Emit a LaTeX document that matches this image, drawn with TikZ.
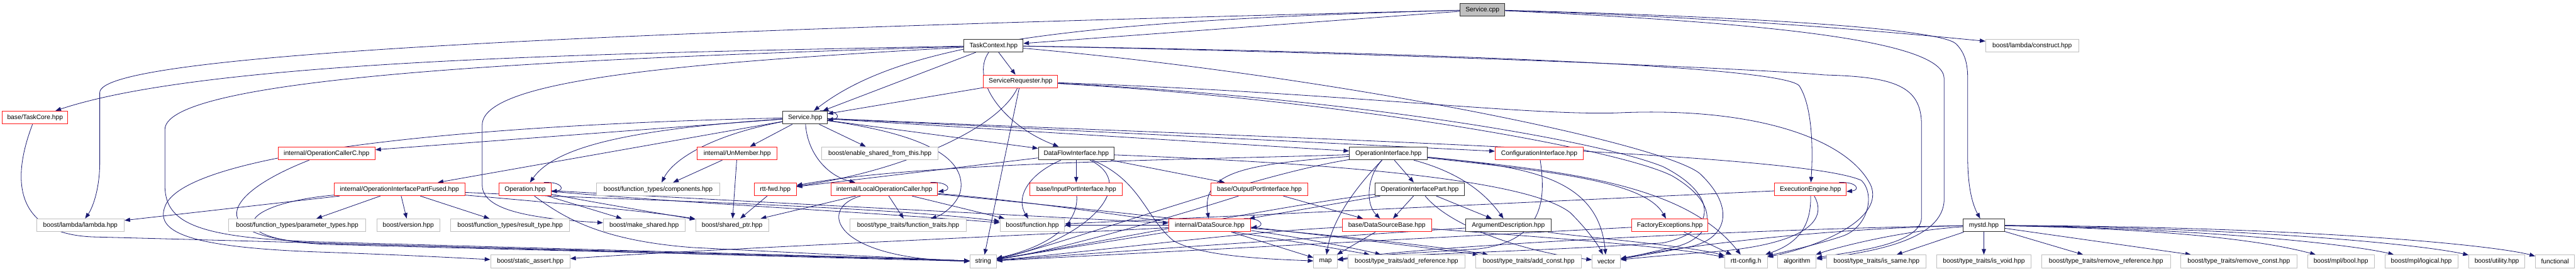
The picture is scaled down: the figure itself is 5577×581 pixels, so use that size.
\documentclass[tikz,border=0pt]{standalone}
\usepackage{fontspec}
\setmainfont{Liberation Sans}
\usetikzlibrary{arrows.meta}
\definecolor{edgec}{HTML}{191970}
\definecolor{redc}{HTML}{FF1A1A}
\definecolor{grayc}{HTML}{BFBFBF}
\definecolor{blkc}{HTML}{303030}
\pgfdeclarelayer{bg}
\pgfsetlayers{bg,main}
\newcommand{\dxloop}[1]{\draw[e] ([xshift=-16pt]#1.north east) .. controls +(40pt,2pt) and +(30pt,3pt) .. ([yshift=-5pt]#1.east);}
\tikzset{
  box/.style={rectangle, draw, fill=white, line width=1.3pt, minimum height=28pt, inner sep=0pt, font=\fontsize{14pt}{16pt}\selectfont},
  bbox/.style={box, draw=blkc},
  rbox/.style={box, draw=redc},
  gbox/.style={box, draw=grayc},
  e/.style={draw=edgec, line width=1.1pt, -{Triangle[length=12pt,width=9pt]}, fill=none}
}
\begin{document}
\begin{tikzpicture}[x=1pt,y=-1pt]
\useasboundingbox (0,0) rectangle (5577,581);
% row 0-3
\node[bbox,fill=grayc,minimum width=97pt] (cpp) at (3209.5,21) {Service.cpp};
\node[bbox,minimum width=128pt] (tc) at (2151,98.5) {TaskContext.hpp};
\node[gbox,minimum width=201pt] (lcons) at (4399.5,98.5) {boost/lambda/construct.hpp};
\node[rbox,minimum width=161pt] (sreq) at (2209.5,176) {ServiceRequester.hpp};
\node[rbox,minimum width=142pt] (tcore) at (76,254) {base/TaskCore.hpp};
\node[bbox,minimum width=96pt] (shpp) at (1743,254) {Service.hpp};
% row 4
\node[rbox,minimum width=210pt] (occ) at (707,331.5) {internal/OperationCallerC.hpp};
\node[rbox,minimum width=173pt] (unm) at (1596,331.5) {internal/UnMember.hpp};
\node[gbox,minimum width=251pt] (esft) at (1905,331.5) {boost/enable\_shared\_from\_this.hpp};
\node[bbox,minimum width=164pt] (dfi) at (2330,331.5) {DataFlowInterface.hpp};
\node[bbox,minimum width=169pt] (oi) at (3006,331.5) {OperationInterface.hpp};
\node[rbox,minimum width=191pt] (ci) at (3332.5,331.5) {ConfigurationInterface.hpp};
% row 5
\node[rbox,minimum width=283pt] (oipf) at (865,409) {internal/OperationInterfacePartFused.hpp};
\node[rbox,minimum width=112pt] (op) at (1137,409) {Operation.hpp};
\node[gbox,minimum width=267pt] (comp) at (1425,409) {boost/function\_types/components.hpp};
\node[rbox,minimum width=91pt] (fwd) at (1678.5,409) {rtt-fwd.hpp};
\node[rbox,minimum width=231pt] (loc) at (1914.5,409) {internal/LocalOperationCaller.hpp};
\node[rbox,minimum width=200pt] (ipi) at (2330,409) {base/InputPortInterface.hpp};
\node[rbox,minimum width=211pt] (opi) at (2726.5,409) {base/OutputPortInterface.hpp};
\node[bbox,minimum width=193pt] (oip) at (3073.5,409) {OperationInterfacePart.hpp};
\node[rbox,minimum width=155pt] (ee) at (3919.5,409) {ExecutionEngine.hpp};
% row 6
\node[gbox,minimum width=190pt] (lam) at (174,487) {boost/lambda/lambda.hpp};
\node[gbox,minimum width=297pt] (ptypes) at (643.5,487) {boost/function\_types/parameter\_types.hpp};
\node[gbox,minimum width=136pt] (ver) at (884,487) {boost/version.hpp};
\node[gbox,minimum width=257pt] (rtype) at (1104.5,487) {boost/function\_types/result\_type.hpp};
\node[gbox,minimum width=177pt] (mks) at (1394.5,487) {boost/make\_shared.hpp};
\node[gbox,minimum width=158pt] (sp) at (1585,487) {boost/shared\_ptr.hpp};
\node[gbox,minimum width=252pt] (ftr) at (1966,487) {boost/type\_traits/function\_traits.hpp};
\node[gbox,minimum width=140pt] (fun) at (2235,487) {boost/function.hpp};
\node[rbox,minimum width=178pt] (ds) at (2619,487) {internal/DataSource.hpp};
\node[rbox,minimum width=193pt] (dsb) at (3002.5,487) {base/DataSourceBase.hpp};
\node[bbox,minimum width=185pt] (ad) at (3265.5,487) {ArgumentDescription.hpp};
\node[rbox,minimum width=164pt] (fe) at (3615,487) {FactoryExceptions.hpp};
\node[bbox,minimum width=90pt] (mystd) at (4295,487) {mystd.hpp};
% row 7
\node[gbox,minimum width=172pt] (sa) at (1148,565) {boost/static\_assert.hpp};
\node[gbox,minimum width=57pt] (str) at (2128.5,565) {string};
\node[gbox,minimum width=51pt] (map) at (2869.5,565) {map};
\node[gbox,minimum width=254pt] (aref) at (3045,565) {boost/type\_traits/add\_reference.hpp};
\node[gbox,minimum width=229pt] (aconst) at (3309.5,565) {boost/type\_traits/add\_const.hpp};
\node[gbox,minimum width=61pt] (vec) at (3477.5,565) {vector};
\node[gbox,minimum width=92pt] (cfg) at (3780,565) {rtt-config.h};
\node[gbox,minimum width=83pt] (alg) at (3890.5,565) {algorithm};
\node[gbox,minimum width=215pt] (same) at (4062.5,565) {boost/type\_traits/is\_same.hpp};
\node[gbox,minimum width=204pt] (isvoid) at (4295,565) {boost/type\_traits/is\_void.hpp};
\node[gbox,minimum width=279pt] (rref) at (4559.5,565) {boost/type\_traits/remove\_reference.hpp};
\node[gbox,minimum width=252pt] (rconst) at (4847,565) {boost/type\_traits/remove\_const.hpp};
\node[gbox,minimum width=144pt] (mbool) at (5068,565) {boost/mpl/bool.hpp};
\node[gbox,minimum width=158pt] (logical) at (5242,565) {boost/mpl/logical.hpp};
\node[gbox,minimum width=121pt] (util) at (5405.5,565) {boost/utility.hpp};
\node[gbox,minimum width=85pt] (functional) at (5531.5,565) {functional};

\begin{pgfonlayer}{bg}
% Service.cpp
\draw[e] (cpp) -- (tc);
\draw[e] (cpp) .. controls (2300,45) and (1950,95) .. (shpp);
\draw[e] (cpp) .. controls (1200,70) and (216,120) .. (216,200) -- (216,350) .. controls (216,410) and (200,450) .. (lam);
\draw[e] (cpp) .. controls (3800,40) and (4150,75) .. (lcons);
\draw[e] (cpp) .. controls (3750,35) and (4200,60) .. (4235,95) .. controls (4255,115) and (4260,140) .. (4260,170) -- (4260,340) .. controls (4260,410) and (4272,445) .. (mystd);
\draw[e] (cpp) .. controls (3850,50) and (4209,90) .. (4209,170) -- (4209,430) .. controls (4209,520) and (4050,545) .. (alg);
% TaskContext
\draw[e] (tc) -- (sreq);
\draw[e] (tc) -- (shpp);
\draw[e] (tc) .. controls (2100,170) and (2170,270) .. (dfi);
\draw[e] (tc) .. controls (1300,115) and (450,130) .. (tcore);
\draw[e] (tc) .. controls (1300,125) and (357,160) .. (357,280) -- (357,400) .. controls (357,480) and (420,515) .. (700,523) .. controls (1300,540) and (1900,556) .. (str);
\draw[e] (tc) .. controls (1500,135) and (1044,170) .. (1044,270) -- (1044,400) .. controls (1044,455) and (1150,472) .. (mks);
\draw[e] (tc) .. controls (3000,112) and (3850,140) .. (3895,185) .. controls (3925,230) and (3925,330) .. (ee);
\draw[e] (tc) .. controls (3000,114) and (3800,148) .. (3950,162) .. controls (4100,166) and (4160,185) .. (4160,270) -- (4160,470) .. controls (4160,530) and (4000,545) .. (alg);
\draw[e] (tc) .. controls (2900,165) and (3600,310) .. (3680,375) .. controls (3760,450) and (3740,520) .. (3650,535) .. controls (3580,548) and (3530,556) .. (vec);
% ServiceRequester
\draw[e] (sreq) -- (shpp);
\draw[e] (sreq) -- (str);
\draw[e] (sreq) .. controls (2160,280) and (1950,370) .. (fwd);
\draw[e] (sreq) .. controls (2900,200) and (3300,250) .. (3500,244) .. controls (3800,230) and (4000,300) .. (4050,400) .. controls (4080,470) and (3950,530) .. (cfg);
\draw[e] (sreq) .. controls (2900,210) and (3450,300) .. (3600,360) .. controls (3720,420) and (3720,500) .. (3600,525) .. controls (3300,545) and (3000,550) .. (map);
\draw[e] (sreq) .. controls (2900,215) and (3500,320) .. (3620,380) .. controls (3740,450) and (3700,520) .. (3620,535) .. controls (3560,548) and (3530,556) .. (vec);
% Service.hpp
\draw[e] (shpp) -- (unm);
\draw[e] (shpp) -- (esft);
\draw[e] (shpp) .. controls (1748,330) and (1790,380) .. (loc);
\draw[e] (shpp) .. controls (2000,290) and (2090,340) .. (2080,410) .. controls (2075,440) and (2040,465) .. (ftr);
\draw[e] (shpp) .. controls (1550,290) and (1460,340) .. (comp);
\dxloop{shpp}
\draw[e] (shpp) -- (occ);
\draw[e] (shpp) -- (oipf);
\draw[e] (shpp) .. controls (1350,280) and (1200,320) .. (op);
\draw[e] (shpp) -- (dfi);
\draw[e] (shpp) -- (oi);
\draw[e] (shpp) -- (ci);
\draw[e] (shpp) .. controls (2800,300) and (3900,330) .. (4030,390) .. controls (4060,420) and (4045,490) .. (3990,510) .. controls (3930,530) and (3860,545) .. (cfg);
\draw[e] (shpp) .. controls (1000,270) and (420,330) .. (360,440) .. controls (330,500) and (400,535) .. (700,545) .. controls (900,552) and (1000,558) .. (sa);
% UnMember
\draw[e] (unm) -- (comp);
\draw[e] (unm) -- (sp);
% DataFlowInterface
\draw[e] (dfi) -- (ipi);
\draw[e] (dfi) -- (opi);
\draw[e] (dfi) .. controls (2220,380) and (2200,430) .. (fun);
\draw[e] (dfi) .. controls (2470,400) and (2350,520) .. (str);
\draw[e] (dfi) .. controls (2470,390) and (2480,470) .. (2540,520) .. controls (2600,555) and (2750,560) .. (map);
\draw[e] (dfi) -- (fwd);
\draw[e] (dfi) .. controls (2800,350) and (3300,380) .. (3400,460) .. controls (3440,500) and (3460,530) .. (vec);
% OperationInterface
\draw[e] (oi) -- (oip);
\draw[e] (oi) .. controls (2960,380) and (2955,440) .. (dsb);
\draw[e] (oi) .. controls (2940,400) and (2885,470) .. (map);
\draw[e] (oi) .. controls (3150,370) and (3210,410) .. (ad);
\draw[e] (oi) .. controls (3350,370) and (3560,390) .. (fe);
\draw[e] (oi) .. controls (3300,360) and (3460,380) .. (vec);
\draw[e] (oi) .. controls (3400,370) and (3650,400) .. (cfg);
\draw[e] (oi) .. controls (2600,345) and (2000,350) .. (fwd);
\draw[e] (oi) .. controls (2700,355) and (2600,370) .. (ds);
\draw[e] (oi) .. controls (2700,380) and (2300,530) .. (str);
% ConfigurationInterface
\draw[e] (ci) .. controls (3345,420) and (3350,520) .. (3200,538) .. controls (3050,548) and (2950,552) .. (map);
% ExecutionEngine
\draw[e] (ee) -- (fun);
\draw[e] (ee) .. controls (3922,500) and (3880,530) .. (cfg);
\draw[e] (ee) .. controls (3960,480) and (3900,530) .. (3700,545) .. controls (3600,552) and (3540,558) .. (vec);
\dxloop{ee}
% FactoryExceptions
\draw[e] (fe) -- (cfg);
\draw[e] (fe) -- (str);
% OperationInterfacePart
\draw[e] (oip) -- (dsb);
\draw[e] (oip) -- (ad);
\draw[e] (oip) -- (ds);
\draw[e] (oip) .. controls (3140,490) and (3300,545) .. (vec);
\draw[e] (oip) .. controls (2800,440) and (2400,520) .. (str);
% OperationInterfacePartFused
\draw[e] (oipf) -- (lam);
\draw[e] (oipf) -- (ptypes);
\draw[e] (oipf) -- (ver);
\draw[e] (oipf) -- (rtype);
\draw[e] (oipf) .. controls (520,440) and (470,515) .. (700,528) .. controls (1300,545) and (1900,557) .. (str);
\draw[e] (oipf) .. controls (1100,430) and (1400,455) .. (sp);
\draw[e] (oipf) .. controls (1300,430) and (1900,445) .. (fun);
% Operation
\draw[e] (op) -- (mks);
\draw[e] (op) .. controls (1300,440) and (1450,465) .. (sp);
\draw[e] (op) .. controls (1220,470) and (1300,520) .. (1500,535) .. controls (1800,550) and (2000,560) .. (str);
\draw[e] (op) .. controls (1500,440) and (1900,460) .. (fun);
\draw[e] (op) .. controls (1700,440) and (2300,470) .. (ds);
\dxloop{op}
% LocalOperationCaller
\draw[e] (loc) -- (ftr);
\draw[e] (loc) -- (sp);
\draw[e] (loc) .. controls (1770,450) and (1800,560) .. (str);
\draw[e] (loc) -- (fun);
\draw[e] (loc) .. controls (2300,440) and (2800,520) .. (aref);
\draw[e] (loc) .. controls (2300,445) and (2900,510) .. (aconst);
\dxloop{loc}
% rtt-fwd
\draw[e] (fwd) -- (sp);
% ports
\draw[e] (ipi) .. controls (2335,480) and (2280,530) .. (str);
\draw[e] (opi) -- (dsb);
\draw[e] (opi) .. controls (2600,450) and (2300,540) .. (str);
% DataSource
\draw[e] (ds) -- (fun);
\draw[e] (ds) -- (map);
\draw[e] (ds) .. controls (2800,510) and (2950,540) .. (aref);
\draw[e] (ds) .. controls (2800,500) and (3100,530) .. (aconst);
\draw[e] (ds) -- (str);
\draw[e] (ds) .. controls (2300,505) and (1500,540) .. (sa);
\dxloop{ds}
% DataSourceBase
\draw[e] (dsb) -- (map);
\draw[e] (dsb) .. controls (2700,500) and (2400,540) .. (str);
\draw[e] (dsb) .. controls (3300,510) and (3600,530) .. (cfg);
% ArgumentDescription
\draw[e] (ad) .. controls (2900,510) and (2400,545) .. (str);
\draw[e] (ad) .. controls (3400,510) and (3650,530) .. (cfg);
% TaskCore, OperationCallerC
\draw[e] (tcore) .. controls (20,400) and (40,505) .. (200,512) .. controls (900,530) and (1700,556) .. (str);
\draw[e] (occ) .. controls (480,420) and (430,515) .. (700,526) .. controls (1300,542) and (1900,556) .. (str);
% mystd
\draw[e] (mystd) -- (same);
\draw[e] (mystd) -- (isvoid);
\draw[e] (mystd) -- (rref);
\draw[e] (mystd) -- (rconst);
\draw[e] (mystd) .. controls (4700,495) and (4900,520) .. (mbool);
\draw[e] (mystd) .. controls (4800,495) and (5100,530) .. (logical);
\draw[e] (mystd) .. controls (4900,493) and (5250,530) .. (util);
\draw[e] (mystd) .. controls (5000,490) and (5400,530) .. (functional);
\draw[e] (mystd) .. controls (4100,500) and (3960,540) .. (alg);
\draw[e] (mystd) .. controls (3900,495) and (3600,540) .. (vec);
\draw[e] (mystd) .. controls (3800,495) and (3100,530) .. (map);
\end{pgfonlayer}
\end{tikzpicture}
\end{document}
